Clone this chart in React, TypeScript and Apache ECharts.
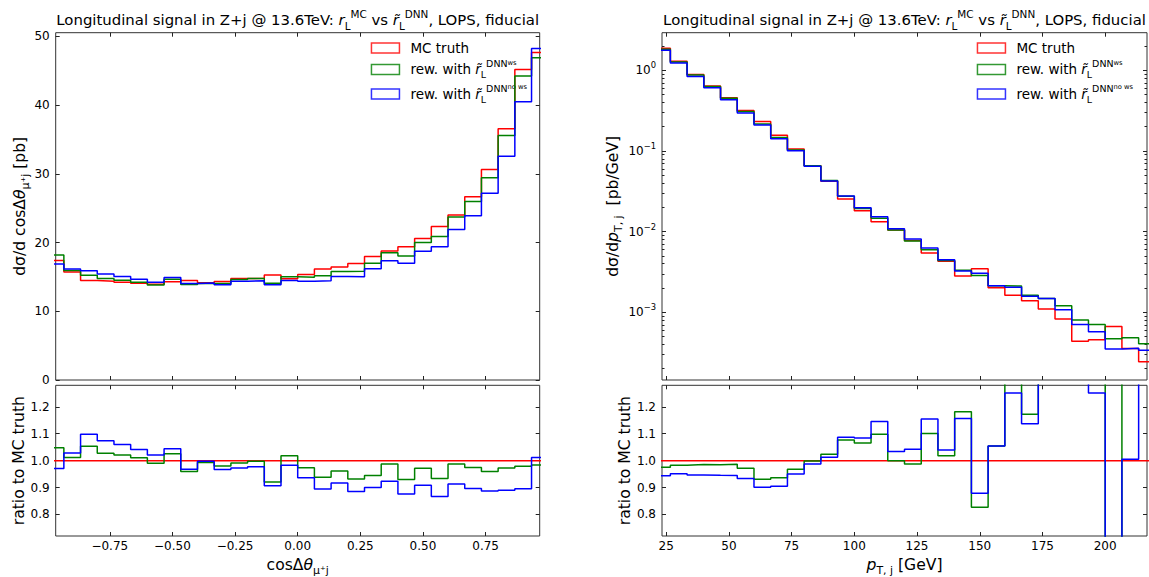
import React, { useEffect, useRef } from "react";
import * as echarts from "echarts";

const FONT = "DejaVu Sans";
const RED = "#ff0000";
const GREEN = "#008000";
const BLUE = "#0000ff";

// ---------- left panel: cos Δθ_{μ+ j}, 30 bins on [-1, 1] ----------
const cosLo = -1;
const cosHi = 1;
const cosViewMin = -0.9659;
const cosViewMax = 0.9659;
const cosMC = [17.38, 15.73, 14.47, 14.37, 14.22, 14.08, 13.95, 14.3, 14.5, 14.15, 14.35, 14.76, 14.8, 15.3, 14.75, 15.35, 16.15, 16.45, 16.97, 17.99, 18.77, 19.4, 20.61, 22.36, 24.0, 26.67, 30.65, 36.57, 45.2, 47.67];
const cosWs = [18.21, 15.92, 15.25, 14.76, 14.52, 14.23, 13.81, 14.67, 13.91, 14.05, 14.06, 14.63, 14.77, 14.08, 15.02, 14.94, 15.16, 15.81, 15.82, 17.0, 18.53, 18.04, 20.03, 20.88, 23.71, 25.98, 29.42, 35.58, 44.25, 46.91];
const cosNoWs = [16.88, 16.17, 15.89, 15.43, 15.07, 14.66, 14.24, 14.93, 14.04, 14.12, 13.88, 14.36, 14.46, 13.88, 14.5, 14.38, 14.45, 15.08, 15.02, 16.19, 17.34, 16.99, 18.73, 19.39, 21.91, 23.9, 27.19, 32.55, 40.5, 48.24];
const cosXTicks = [-0.75, -0.5, -0.25, 0, 0.25, 0.5, 0.75];
const cosYTicks = [0, 10, 20, 30, 40, 50];
const cosYMax = 50.55;

// ---------- right panel: pT,j, 30 bins on [20, 220] GeV ----------
const ptLo = 20;
const ptHi = 220;
const ptViewMin = 23.333;
const ptViewMax = 216.667;
const ptMC = [1.87, 1.29, 0.884, 0.64, 0.455, 0.317, 0.232, 0.157, 0.106, 0.0655, 0.042, 0.0254, 0.0182, 0.0133, 0.01048, 0.00776, 0.00543, 0.0043, 0.00281, 0.00346, 0.00202, 0.00163, 0.00139, 0.0011, 0.000828, 0.000437, 0.000458, 0.000667, 0.000356, 0.000244];
const ptWs = [1.825, 1.268, 0.871, 0.63, 0.449, 0.308, 0.216, 0.147, 0.1026, 0.0654, 0.043, 0.02736, 0.0194, 0.0146, 0.01048, 0.00766, 0.00598, 0.00438, 0.00332, 0.00286, 0.00213, 0.00212, 0.00163, 0.00148, 0.00121, 0.000805, 0.000706, 0.000471, 0.000485, 0.000409];
const ptNoWs = [1.765, 1.227, 0.837, 0.605, 0.43, 0.296, 0.209, 0.142, 0.1007, 0.0647, 0.04255, 0.02761, 0.01973, 0.01524, 0.01084, 0.00809, 0.00627, 0.00447, 0.00325, 0.00304, 0.00213, 0.00204, 0.00158, 0.00148, 0.00108, 0.000706, 0.000573, 0.000352, 0.000358, 0.00034];
const ptXTicks = [25, 50, 75, 100, 125, 150, 175, 200];
const logTicks = [0.001, 0.01, 0.1, 1];
const logMin = 1.45e-4;
const logMax = 2.92;

// ratio panels
const ratioMin = 0.72;
const ratioMax = 1.28;
const ratioTicks = [0.8, 0.9, 1.0, 1.1, 1.2];

const seriesNames = ["MC truth", "ws", "nows"];
const seriesColors = [RED, GREEN, BLUE];

// ---------- layout ----------
const L1 = 55.7;
const L2 = 662;
const W1 = 484;
const W2 = 485;
const T1 = 32.7;
const H1 = 347.3;
const T2 = 385.3;
const H2 = 152.7;
const NAME_FS = 15.6;
const TITLE_FS = 14.9;

function rich(fs: number, lh: number) {
  const base = { fontFamily: FONT, color: "#000" };
  return {
    b: { ...base, fontSize: fs, lineHeight: lh },
    i: { ...base, fontSize: fs, lineHeight: lh, fontStyle: "italic" },
    sub: { ...base, fontSize: fs * 0.7, lineHeight: lh * 0.5, verticalAlign: "bottom" },
    sup: { ...base, fontSize: fs * 0.7, lineHeight: lh * 0.5, verticalAlign: "top" },
    ss: { ...base, fontSize: fs * 0.5, lineHeight: lh * 0.78, verticalAlign: "top" },
    e: { ...base, fontSize: fs * 0.7, lineHeight: lh * 0.5, verticalAlign: "top" },
  };
}

const TITLE =
  "{b|Longitudinal signal in Z+j @ 13.6TeV: }{i|r}{sub|L}{sup|MC}{b| vs }{i|r\u0303}{sub|L}{sup|DNN}{b|, LOPS, fiducial}";

const legendText: Record<string, string> = {
  "MC truth": "{b|MC truth}",
  ws: "{b|rew. with }{i|r\u0303}{sub|L}{sup|DNN}{ss|ws}",
  nows: "{b|rew. with }{i|r\u0303}{sub|L}{sup|DNN}{ss|no ws}",
};

function stepData(lo: number, hi: number, vals: number[]) {
  const w = (hi - lo) / vals.length;
  const pts: number[][] = vals.map((v, i) => [lo + i * w, v]);
  pts.push([hi, vals[vals.length - 1]]);
  return pts;
}

function ratio(vals: number[], ref: number[]) {
  return vals.map((v, i) => v / ref[i]);
}

function tick(vals: number[], len = 4) {
  return {
    show: true,
    inside: true,
    length: len,
    customValues: vals,
    lineStyle: { color: "#222", width: 1 },
  };
}

function axisBase(grid: number, min: number, max: number, position: string) {
  return {
    type: "value",
    gridIndex: grid,
    min,
    max,
    position,
    axisLine: { show: false, onZero: false },
    splitLine: { show: false },
  };
}

function labelOpt(vals: number[], fmt: (v: number) => string, margin: number) {
  return {
    show: true,
    customValues: vals,
    formatter: fmt,
    fontFamily: FONT,
    fontSize: 12,
    color: "#000",
    margin,
    showMinLabel: true,
    showMaxLabel: true,
  };
}

const fmtCos = (v: number) => (v < 0 ? "\u2212" : "") + Math.abs(v).toFixed(2);
const fmtInt = (v: number) => String(v);
const fmtRatio = (v: number) => v.toFixed(1);
const fmtLog = (v: number) => {
  const e = Math.round(Math.log10(v));
  return "{b|10}{e|" + (e < 0 ? "\u2212" + -e : String(e)) + "}";
};

function nameStyle() {
  return { fontFamily: FONT, fontSize: NAME_FS, color: "#000", rich: rich(NAME_FS, 22) };
}

function buildOption() {
  const minorLog: number[] = [];
  for (let k = -4; k <= 0; k++) {
    for (let m = 2; m <= 9; m++) {
      const v = m * Math.pow(10, k);
      if (v > logMin && v < logMax) minorLog.push(v);
    }
  }

  const xAxis = [
    // grid 0 (cos, upper)
    { ...axisBase(0, cosViewMin, cosViewMax, "bottom"), axisTick: tick(cosXTicks), axisLabel: { show: false } },
    { ...axisBase(0, cosViewMin, cosViewMax, "top"), axisTick: tick(cosXTicks), axisLabel: { show: false } },
    // grid 1 (cos, ratio)
    {
      ...axisBase(1, cosViewMin, cosViewMax, "bottom"),
      axisTick: tick(cosXTicks),
      axisLabel: labelOpt(cosXTicks, fmtCos, 4),
      name: "{b|cos\u0394}{i|\u03b8}{sub|\u03bc\u207aj}",
      nameLocation: "middle",
      nameGap: 18,
      nameTextStyle: { ...nameStyle(), verticalAlign: "top" },
    },
    { ...axisBase(1, cosViewMin, cosViewMax, "top"), axisTick: tick(cosXTicks), axisLabel: { show: false } },
    // grid 2 (pt, upper)
    { ...axisBase(2, ptViewMin, ptViewMax, "bottom"), axisTick: tick(ptXTicks), axisLabel: { show: false } },
    { ...axisBase(2, ptViewMin, ptViewMax, "top"), axisTick: tick(ptXTicks), axisLabel: { show: false } },
    // grid 3 (pt, ratio)
    {
      ...axisBase(3, ptViewMin, ptViewMax, "bottom"),
      axisTick: tick(ptXTicks),
      axisLabel: labelOpt(ptXTicks, fmtInt, 4),
      name: "{i|p}{sub|T, j}{b| [GeV]}",
      nameLocation: "middle",
      nameGap: 18,
      nameTextStyle: { ...nameStyle(), verticalAlign: "top" },
    },
    { ...axisBase(3, ptViewMin, ptViewMax, "top"), axisTick: tick(ptXTicks), axisLabel: { show: false } },
  ];

  const yAxis = [
    // 0: grid0 left
    {
      ...axisBase(0, 0, cosYMax, "left"),
      axisTick: tick(cosYTicks),
      axisLabel: labelOpt(cosYTicks, fmtInt, 6),
      name: "{b|d\u03c3/d cos\u0394}{i|\u03b8}{sub|\u03bc\u207aj}{b| [pb]}",
      nameLocation: "middle",
      nameGap: 24,
      nameRotate: 90,
      nameTextStyle: nameStyle(),
    },
    // 1: grid0 right
    { ...axisBase(0, 0, cosYMax, "right"), axisTick: tick(cosYTicks), axisLabel: { show: false } },
    // 2: grid1 left
    {
      ...axisBase(1, ratioMin, ratioMax, "left"),
      axisTick: tick(ratioTicks),
      axisLabel: labelOpt(ratioTicks, fmtRatio, 6),
      name: "{b|ratio to MC truth}",
      nameLocation: "middle",
      nameGap: 24,
      nameRotate: 90,
      nameTextStyle: nameStyle(),
    },
    // 3: grid1 right
    { ...axisBase(1, ratioMin, ratioMax, "right"), axisTick: tick(ratioTicks), axisLabel: { show: false } },
    // 4: grid2 left log
    {
      ...axisBase(2, logMin, logMax, "left"),
      type: "log",
      logBase: 10,
      axisTick: tick(logTicks),
      axisLabel: { ...labelOpt(logTicks, fmtLog, 6), rich: rich(12, 18) },
      name: "{b|d\u03c3/d}{i|p}{sub|T, j}{b|  [pb/GeV]}",
      nameLocation: "middle",
      nameGap: 24,
      nameRotate: 90,
      nameTextStyle: nameStyle(),
    },
    // 5: grid2 right log
    { ...axisBase(2, logMin, logMax, "right"), type: "log", logBase: 10, axisTick: tick(logTicks), axisLabel: { show: false } },
    // 6: grid2 left minor
    { ...axisBase(2, logMin, logMax, "left"), type: "log", logBase: 10, axisTick: tick(minorLog, 2.5), axisLabel: { show: false } },
    // 7: grid2 right minor
    { ...axisBase(2, logMin, logMax, "right"), type: "log", logBase: 10, axisTick: tick(minorLog, 2.5), axisLabel: { show: false } },
    // 8: grid3 left
    {
      ...axisBase(3, ratioMin, ratioMax, "left"),
      axisTick: tick(ratioTicks),
      axisLabel: labelOpt(ratioTicks, fmtRatio, 6),
      name: "{b|ratio to MC truth}",
      nameLocation: "middle",
      nameGap: 24,
      nameRotate: 90,
      nameTextStyle: nameStyle(),
    },
    // 9: grid3 right
    { ...axisBase(3, ratioMin, ratioMax, "right"), axisTick: tick(ratioTicks), axisLabel: { show: false } },
  ];

  const gridStyle = { show: true, borderColor: "#333", borderWidth: 1, backgroundColor: "transparent" };
  const grid = [
    { left: L1, top: T1, width: W1, height: H1, ...gridStyle },
    { left: L1, top: T2, width: W1, height: H2, ...gridStyle },
    { left: L2, top: T1, width: W2, height: H1, ...gridStyle },
    { left: L2, top: T2, width: W2, height: H2, ...gridStyle },
  ];

  const line = (name: string, color: string, xi: number, yi: number, lo: number, hi: number, vals: number[], z: number) => ({
    type: "line",
    name,
    xAxisIndex: xi,
    yAxisIndex: yi,
    data: stepData(lo, hi, vals),
    step: "end",
    symbol: "none",
    showSymbol: false,
    clip: true,
    silent: true,
    z,
    lineStyle: { color, width: 1.5 },
    itemStyle: { color },
  });

  const panelSets = [
    { xi: 0, yi: 0, lo: cosLo, hi: cosHi, vals: [cosMC, cosWs, cosNoWs] },
    { xi: 2, yi: 2, lo: cosLo, hi: cosHi, vals: [ratio(cosMC, cosMC), ratio(cosWs, cosMC), ratio(cosNoWs, cosMC)] },
    { xi: 4, yi: 4, lo: ptLo, hi: ptHi, vals: [ptMC, ptWs, ptNoWs] },
    { xi: 6, yi: 8, lo: ptLo, hi: ptHi, vals: [ratio(ptMC, ptMC), ratio(ptWs, ptMC), ratio(ptNoWs, ptMC)] },
  ];

  // empty series first so the legend takes its rectangular icon
  const series: any[] = seriesNames.map((n) => ({ type: "scatter", name: n, data: [], xAxisIndex: 0, yAxisIndex: 0, silent: true }));
  panelSets.forEach((p) => {
    p.vals.forEach((v, k) => {
      series.push(line(seriesNames[k], seriesColors[k], p.xi, p.yi, p.lo, p.hi, v, 3 + k));
    });
  });

  const legendData = seriesNames.map((n, k) => ({
    name: n,
    icon: "rect",
    itemStyle: { color: "#ffffff", borderColor: seriesColors[k], borderWidth: 1.5 },
  }));
  const legendBase = {
    orient: "vertical",
    top: 40.9,
    padding: 0,
    itemWidth: 28,
    itemHeight: 10,
    itemGap: 4.5,
    selectedMode: false,
    data: legendData,
    formatter: (n: string) => legendText[n],
    textStyle: { fontFamily: FONT, fontSize: 13.5, color: "#000", padding: [0, 0, 0, 6], rich: rich(13.5, 20) },
  };

  const titleStyle = {
    text: TITLE,
    align: "center",
    verticalAlign: "top",
    fontFamily: FONT,
    fontSize: TITLE_FS,
    fill: "#000",
    rich: rich(TITLE_FS, 22),
  };

  return {
    animation: false,
    backgroundColor: "#ffffff",
    textStyle: { fontFamily: FONT },
    grid,
    xAxis,
    yAxis,
    legend: [
      { ...legendBase, left: 370.7 },
      { ...legendBase, left: 976.7 },
    ],
    graphic: [
      { type: "text", x: L1 + W1 / 2, y: 8.5, style: titleStyle },
      { type: "text", x: L2 + W2 / 2, y: 8.5, style: titleStyle },
    ],
    series,
  };
}

export default function App() {
  const ref = useRef<HTMLDivElement>(null);
  useEffect(() => {
    document.body.style.margin = "0";
    const chart = echarts.init(ref.current as HTMLDivElement, null, { renderer: "svg" });
    chart.setOption(buildOption() as any);
    return () => chart.dispose();
  }, []);
  return <div ref={ref} style={{ width: 1149, height: 577 }} />;
}
